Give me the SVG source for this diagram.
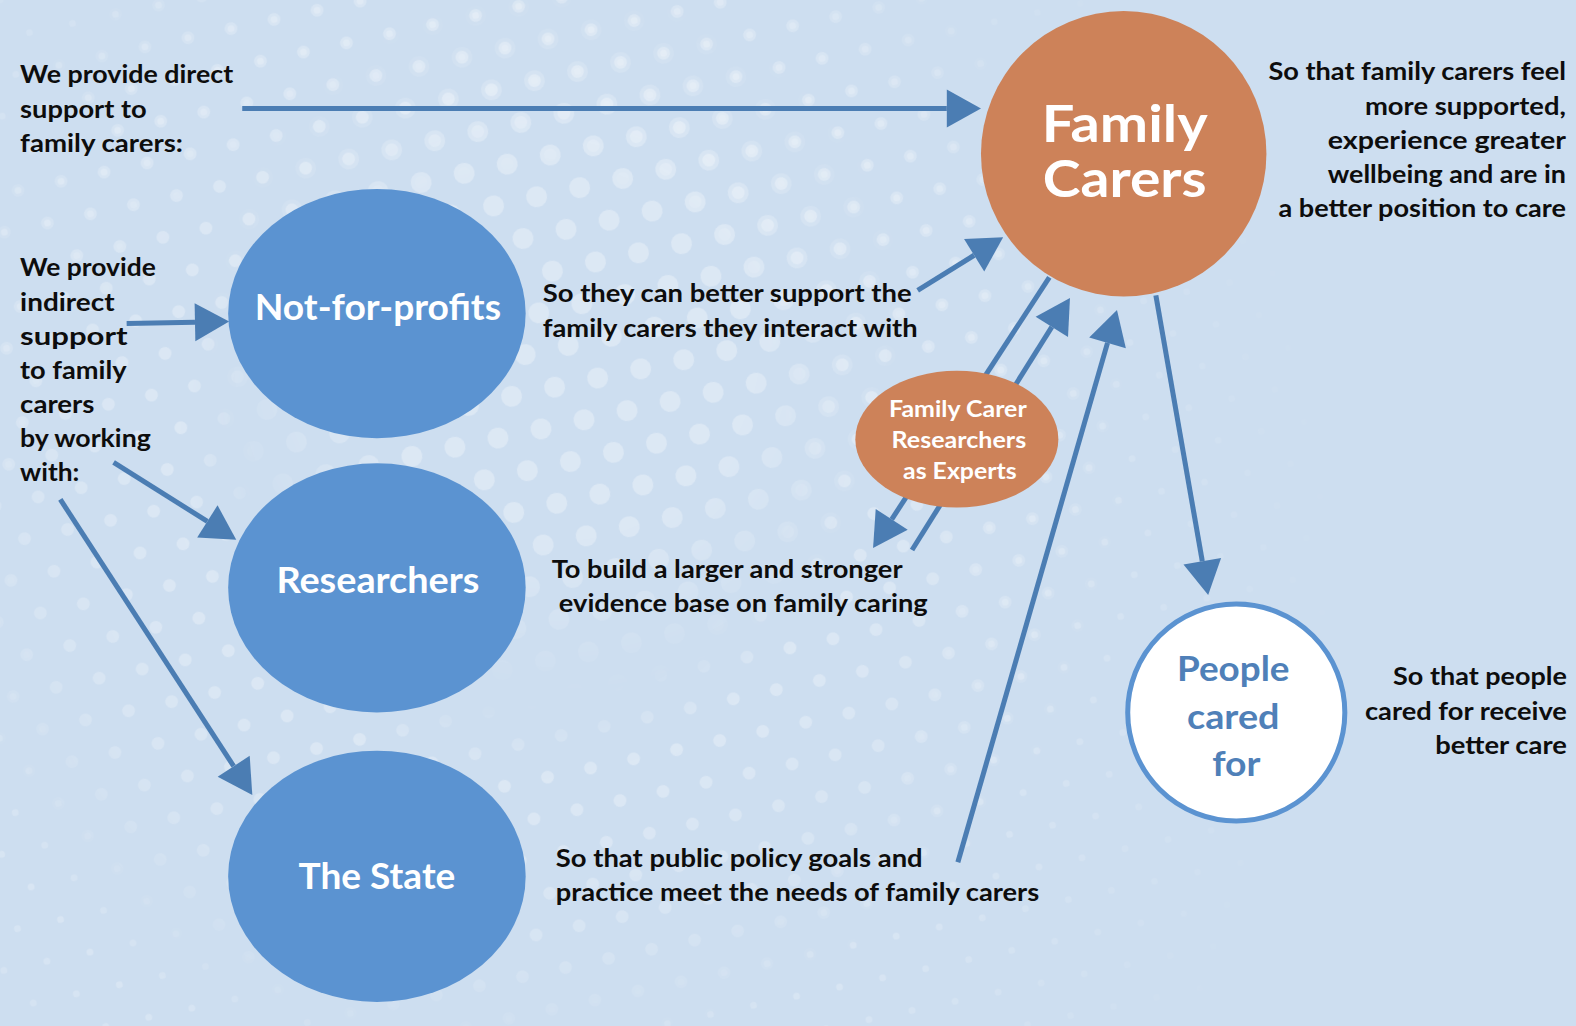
<svg xmlns="http://www.w3.org/2000/svg" width="1576" height="1026" viewBox="0 0 1576 1026">
  <defs>
    <style>
      .txt { font-family: Lato, "Liberation Sans", sans-serif; font-weight: 700; fill: #0d0d0d; font-size: 24px; }
      .end { text-anchor: end; }
      .lbl { font-family: Lato, "Liberation Sans", sans-serif; font-weight: 700; fill: #ffffff; text-anchor: middle; }
      .pcf { fill: #4f80b8; }
      .blue { fill: #5b93d1; }
      .orange { fill: #cd8259; }
      .conn { fill: none; stroke: #4b7db3; stroke-width: 5; marker-end: url(#head); }
      .dot { fill: #ffffff; fill-opacity: 0.3; }
    </style>
    <marker id="head" markerUnits="userSpaceOnUse" markerWidth="36" markerHeight="40" refX="0" refY="19" orient="auto" overflow="visible">
      <path d="M0,0 L34,19 L0,38 z" fill="#4b7db3"/>
    </marker>

    <!-- staggered dot grids in three sizes -->
    <pattern id="dotsBig" width="44" height="76" patternUnits="userSpaceOnUse" patternTransform="rotate(-12)">
      <circle class="dot" cx="0" cy="0" r="10.5"/><circle class="dot" cx="44" cy="0" r="10.5"/>
      <circle class="dot" cx="22" cy="38" r="10.5"/>
      <circle class="dot" cx="0" cy="76" r="10.5"/><circle class="dot" cx="44" cy="76" r="10.5"/>
    </pattern>
    <pattern id="dotsMid" width="44" height="76" patternUnits="userSpaceOnUse" patternTransform="rotate(-12)">
      <circle class="dot" cx="0" cy="0" r="6.5"/><circle class="dot" cx="44" cy="0" r="6.5"/>
      <circle class="dot" cx="22" cy="38" r="6.5"/>
      <circle class="dot" cx="0" cy="76" r="6.5"/><circle class="dot" cx="44" cy="76" r="6.5"/>
    </pattern>
    <pattern id="dotsSmall" width="44" height="76" patternUnits="userSpaceOnUse" patternTransform="rotate(-12)">
      <circle class="dot" cx="0" cy="0" r="3.5"/><circle class="dot" cx="44" cy="0" r="3.5"/>
      <circle class="dot" cx="22" cy="38" r="3.5"/>
      <circle class="dot" cx="0" cy="76" r="3.5"/><circle class="dot" cx="44" cy="76" r="3.5"/>
    </pattern>

    <radialGradient id="gBig" gradientUnits="userSpaceOnUse" cx="560" cy="340" r="360">
      <stop offset="0" stop-color="#fff" stop-opacity="1"/>
      <stop offset="0.55" stop-color="#fff" stop-opacity="1"/>
      <stop offset="1" stop-color="#fff" stop-opacity="0"/>
    </radialGradient>
    <radialGradient id="gMid" gradientUnits="userSpaceOnUse" cx="520" cy="440" r="620">
      <stop offset="0" stop-color="#fff" stop-opacity="0"/>
      <stop offset="0.42" stop-color="#fff" stop-opacity="0"/>
      <stop offset="0.55" stop-color="#fff" stop-opacity="1"/>
      <stop offset="0.8" stop-color="#fff" stop-opacity="0.7"/>
      <stop offset="1" stop-color="#fff" stop-opacity="0"/>
    </radialGradient>
    <radialGradient id="gSmall" gradientUnits="userSpaceOnUse" cx="480" cy="560" r="880">
      <stop offset="0" stop-color="#fff" stop-opacity="0"/>
      <stop offset="0.5" stop-color="#fff" stop-opacity="0"/>
      <stop offset="0.62" stop-color="#fff" stop-opacity="0.75"/>
      <stop offset="1" stop-color="#fff" stop-opacity="0"/>
    </radialGradient>
    <mask id="mBig"><rect width="1576" height="1026" fill="url(#gBig)"/></mask>
    <mask id="mMid"><rect width="1576" height="1026" fill="url(#gMid)"/></mask>
    <mask id="mSmall"><rect width="1576" height="1026" fill="url(#gSmall)"/></mask>
  </defs>

  <!-- backdrop -->
  <rect width="1576" height="1026" fill="#cddef0"/>
  <rect width="1576" height="1026" fill="url(#dotsBig)" mask="url(#mBig)"/>
  <rect width="1576" height="1026" fill="url(#dotsMid)" mask="url(#mMid)"/>
  <rect width="1576" height="1026" fill="url(#dotsSmall)" mask="url(#mSmall)"/>

  <g transform="scale(1.0051 1.0049)">
    <!-- connectors (drawn beneath the nodes) -->
    <g id="connectors">
      <path class="conn" d="M241,108 L942,108"/>
      <path class="conn" d="M126,322 L194,320.7"/>
      <path class="conn" d="M913,289 L969.2,254"/>
      <path class="conn" d="M1044,276 L887.2,516.8"/>
      <path class="conn" d="M907.4,547.3 L1046.5,325.3"/>
      <path class="conn" d="M953,858 L1101.9,341.2"/>
      <path class="conn" d="M1150,294 L1196.2,558.5"/>
      <path class="conn" d="M113,460 L206.3,518.9"/>
      <path class="conn" d="M60,497 L232.5,762.5"/>
    </g>

    <g id="family-carers">
      <ellipse class="orange" cx="1118" cy="153" rx="142" ry="142"/>
      <text class="lbl" x="1119" y="141" font-size="51" textLength="165" lengthAdjust="spacingAndGlyphs">Family</text>
      <text class="lbl" x="1119" y="196" font-size="51" textLength="163" lengthAdjust="spacingAndGlyphs">Carers</text>
    </g>

    <g id="not-for-profits">
      <ellipse class="blue" cx="375" cy="312" rx="148" ry="124"/>
      <text class="lbl" x="376" y="318" font-size="37" textLength="245" lengthAdjust="spacingAndGlyphs">Not-for-profits</text>
    </g>

    <g id="researchers">
      <ellipse class="blue" cx="375" cy="585" rx="148" ry="124"/>
      <text class="lbl" x="376" y="590" font-size="37" textLength="202" lengthAdjust="spacingAndGlyphs">Researchers</text>
    </g>

    <g id="the-state">
      <ellipse class="blue" cx="375" cy="872" rx="148" ry="125"/>
      <text class="lbl" x="375" y="885" font-size="37" textLength="156" lengthAdjust="spacingAndGlyphs">The State</text>
    </g>

    <g id="carer-experts">
      <ellipse class="orange" cx="952" cy="437" rx="101" ry="68"/>
      <text class="lbl" x="953" y="415" font-size="23" textLength="137" lengthAdjust="spacingAndGlyphs">Family Carer</text>
      <text class="lbl" x="954" y="446" font-size="23" textLength="134" lengthAdjust="spacingAndGlyphs">Researchers</text>
      <text class="lbl" x="955" y="477" font-size="23" textLength="113" lengthAdjust="spacingAndGlyphs">as Experts</text>
    </g>

    <g id="people-cared-for">
      <ellipse cx="1230" cy="709" rx="108" ry="108" fill="#ffffff" stroke="#5b93d1" stroke-width="5"/>
      <text class="lbl pcf" x="1227" y="678" font-size="35" textLength="112" lengthAdjust="spacingAndGlyphs">People</text>
      <text class="lbl pcf" x="1227" y="725" font-size="35" textLength="92" lengthAdjust="spacingAndGlyphs">cared</text>
      <text class="lbl pcf" x="1230" y="772" font-size="35" textLength="48" lengthAdjust="spacingAndGlyphs">for</text>
    </g>

    <!-- explanatory captions -->
    <g id="caption-direct">
      <text class="txt" x="20" y="83" textLength="212" lengthAdjust="spacingAndGlyphs">We provide direct</text>
      <text class="txt" x="20" y="117" textLength="126" lengthAdjust="spacingAndGlyphs">support to</text>
      <text class="txt" x="20" y="151" textLength="162" lengthAdjust="spacingAndGlyphs">family carers:</text>
    </g>
    <g id="caption-indirect">
      <text class="txt" x="20" y="275" textLength="135" lengthAdjust="spacingAndGlyphs">We provide</text>
      <text class="txt" x="20" y="309" textLength="94" lengthAdjust="spacingAndGlyphs">indirect</text>
      <text class="txt" x="20" y="343" textLength="107" lengthAdjust="spacingAndGlyphs">support</text>
      <text class="txt" x="20" y="377" textLength="106" lengthAdjust="spacingAndGlyphs">to family</text>
      <text class="txt" x="20" y="411" textLength="74" lengthAdjust="spacingAndGlyphs">carers</text>
      <text class="txt" x="20" y="445" textLength="130" lengthAdjust="spacingAndGlyphs">by working</text>
      <text class="txt" x="20" y="479" textLength="59" lengthAdjust="spacingAndGlyphs">with:</text>
    </g>
    <g id="caption-outcome-carers">
      <text class="txt end" x="1558" y="80" textLength="296" lengthAdjust="spacingAndGlyphs">So that family carers feel</text>
      <text class="txt end" x="1558" y="114" textLength="200" lengthAdjust="spacingAndGlyphs">more supported,</text>
      <text class="txt end" x="1558" y="148" textLength="237" lengthAdjust="spacingAndGlyphs">experience greater</text>
      <text class="txt end" x="1558" y="182" textLength="237" lengthAdjust="spacingAndGlyphs">wellbeing and are in</text>
      <text class="txt end" x="1558" y="216" textLength="286" lengthAdjust="spacingAndGlyphs">a better position to care</text>
    </g>
    <g id="caption-nfp">
      <text class="txt" x="540" y="301" textLength="367" lengthAdjust="spacingAndGlyphs">So they can better support the</text>
      <text class="txt" x="540" y="335" textLength="373" lengthAdjust="spacingAndGlyphs">family carers they interact with</text>
    </g>
    <g id="caption-research">
      <text class="txt" x="549" y="575" textLength="349" lengthAdjust="spacingAndGlyphs">To build a larger and stronger</text>
      <text class="txt" x="556" y="609" textLength="367" lengthAdjust="spacingAndGlyphs">evidence base on family caring</text>
    </g>
    <g id="caption-state">
      <text class="txt" x="553" y="863" textLength="365" lengthAdjust="spacingAndGlyphs">So that public policy goals and</text>
      <text class="txt" x="553" y="897" textLength="481" lengthAdjust="spacingAndGlyphs">practice meet the needs of family carers</text>
    </g>
    <g id="caption-people">
      <text class="txt end" x="1559" y="682" textLength="173" lengthAdjust="spacingAndGlyphs">So that people</text>
      <text class="txt end" x="1559" y="716" textLength="201" lengthAdjust="spacingAndGlyphs">cared for receive</text>
      <text class="txt end" x="1559" y="750" textLength="131" lengthAdjust="spacingAndGlyphs">better care</text>
    </g>
  </g>
</svg>
